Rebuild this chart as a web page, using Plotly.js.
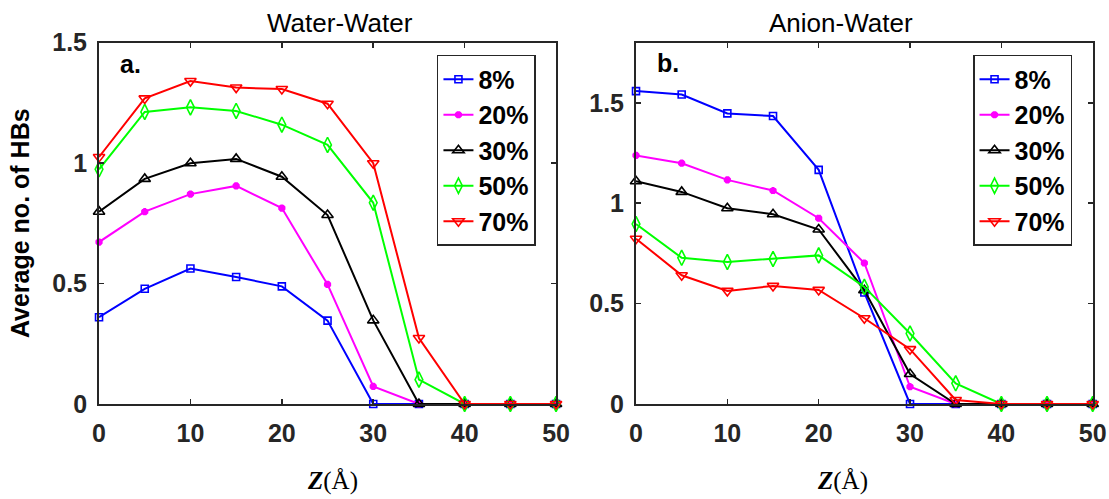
<!DOCTYPE html>
<html>
<head>
<meta charset="utf-8">
<script src="https://cdn.plot.ly/plotly-3.0.1.min.js"></script>
<style>html,body{margin:0;padding:0;background:#fff;}#chart{width:1109px;height:499px;}</style>
</head>
<body>
<div id="chart"></div>
<script>
// Z distance (Å)
const zValues = [0, 5, 10, 15, 20, 25, 30, 35, 40, 45, 50];
const seriesNames = ['8%', '20%', '30%', '50%', '70%'];

// Panel a: Water-Water
const ww8  = [0.360, 0.478, 0.562, 0.527, 0.488, 0.346, 0, 0, 0, 0, 0];
const ww20 = [0.672, 0.798, 0.871, 0.905, 0.813, 0.496, 0.073, 0, 0, 0, 0];
const ww30 = [0.798, 0.934, 0.999, 1.017, 0.943, 0.784, 0.347, 0, 0, 0, 0];
const ww50 = [0.974, 1.212, 1.231, 1.216, 1.159, 1.075, 0.835, 0.101, 0, 0, 0];
const ww70 = [1.025, 1.268, 1.340, 1.313, 1.307, 1.246, 0.999, 0.274, 0, 0, 0];

// Panel b: Anion-Water
const aw8  = [1.558, 1.541, 1.447, 1.434, 1.166, 0.555, 0, 0, 0, 0, 0];
const aw20 = [1.238, 1.199, 1.116, 1.063, 0.925, 0.702, 0.086, 0, 0, 0, 0];
const aw30 = [1.109, 1.056, 0.975, 0.945, 0.869, 0.566, 0.149, 0, 0, 0, 0];
const aw50 = [0.896, 0.728, 0.707, 0.722, 0.740, 0.583, 0.351, 0.103, 0, 0, 0];
const aw70 = [0.823, 0.641, 0.563, 0.588, 0.568, 0.427, 0.273, 0.020, 0, 0, 0];

const colors = ['#0000ff', '#ff00ff', '#000000', '#00ff00', '#ff0000'];
const symbols = ['square-open', 'asterisk-open', 'triangle-up-open', 'diamond-tall-open', 'triangle-down-open'];
const sizes = [7, 6, 10, 11, 10];

const wwData = [ww8, ww20, ww30, ww50, ww70];
const awData = [aw8, aw20, aw30, aw50, aw70];

const traces = [];
function addSet(data, xa, ya, leg) {
  data.forEach((ys, i) => {
    traces.push({
      x: zValues, y: ys, xaxis: xa, yaxis: ya, legend: leg,
      name: seriesNames[i], type: 'scatter', mode: 'lines+markers',
      cliponaxis: false,
      line: {color: colors[i], width: 2},
      marker: {symbol: symbols[i], size: sizes[i], color: colors[i],
               line: {color: colors[i], width: i === 1 ? 3 : 1.6}}
    });
  });
}
addSet(wwData, 'x', 'y', 'legend');
addSet(awData, 'x2', 'y2', 'legend2');

const axColor = '#262626';
const tickFont = {family: 'Liberation Sans, Arial, sans-serif', size: 25, color: axColor, weight: 'bold'};
function xAxis(domain, anchor) {
  return {domain: domain, anchor: anchor, range: [0, 50], tick0: 0, dtick: 10,
    ticks: 'inside', ticklen: 5, tickwidth: 1.5, tickcolor: axColor,
    showline: true, linecolor: axColor, linewidth: 2, mirror: 'ticks',
    showgrid: false, zeroline: false, tickfont: tickFont, ticklabelstandoff: 6};
}
function yAxis(domain, anchor, range) {
  return {domain: domain, anchor: anchor, range: range, tick0: 0, dtick: 0.5,
    ticks: 'inside', ticklen: 5, tickwidth: 1.5, tickcolor: axColor,
    showline: true, linecolor: axColor, linewidth: 2, mirror: 'ticks',
    showgrid: false, zeroline: false, tickfont: tickFont, ticklabelstandoff: 5};
}

const legendFont = {family: 'Liberation Sans, Arial, sans-serif', size: 25, color: '#000', weight: 'bold'};
const legendBase = {xanchor: 'left', yanchor: 'top', bgcolor: '#ffffff',
  bordercolor: axColor, borderwidth: 1.5, font: legendFont, tracegroupgap: 0, itemwidth: 30};

const layout = {
  width: 1109, height: 499,
  margin: {l: 0, r: 0, t: 0, b: 0},
  paper_bgcolor: '#ffffff', plot_bgcolor: '#ffffff',
  showlegend: true,
  xaxis: xAxis([0.0893, 0.5014], 'y'),
  yaxis: Object.assign(yAxis([0.1904, 0.9148], 'x', [0, 1.5]), {
    title: {text: 'Average no. of HBs', standoff: 16,
            font: {family: 'Liberation Sans, Arial, sans-serif', size: 25, color: '#000', weight: 'bold'}}
  }),
  xaxis2: xAxis([0.5735, 0.9853], 'y2'),
  yaxis2: yAxis([0.1904, 0.9148], 'x2', [0, 1.8]),
  legend: Object.assign({x: 0.394, y: 0.8898}, legendBase),
  legend2: Object.assign({x: 0.8774, y: 0.8898}, legendBase),
  annotations: [
    {text: 'Water-Water', xref: 'paper', yref: 'paper', x: 340/1109, y: 1 - 23/499,
     xanchor: 'center', yanchor: 'middle', showarrow: false,
     font: {family: 'Liberation Sans, Arial, sans-serif', size: 26, color: '#000'}},
    {text: 'Anion-Water', xref: 'paper', yref: 'paper', x: 841/1109, y: 1 - 23/499,
     xanchor: 'center', yanchor: 'middle', showarrow: false,
     font: {family: 'Liberation Sans, Arial, sans-serif', size: 26, color: '#000'}},
    {text: 'a.', xref: 'paper', yref: 'paper', x: 130/1109, y: 1 - 64/499,
     xanchor: 'center', yanchor: 'middle', showarrow: false,
     font: {family: 'Liberation Sans, Arial, sans-serif', size: 25, color: '#000', weight: 'bold'}},
    {text: 'b.', xref: 'paper', yref: 'paper', x: 668/1109, y: 1 - 63/499,
     xanchor: 'center', yanchor: 'middle', showarrow: false,
     font: {family: 'Liberation Sans, Arial, sans-serif', size: 25, color: '#000', weight: 'bold'}},
    {text: '<b><i>Z</i></b>(Å)', xref: 'paper', yref: 'paper', x: 332/1109, y: 2/499,
     xanchor: 'center', yanchor: 'bottom', showarrow: false,
     font: {family: 'Liberation Serif, Times New Roman, serif', size: 25, color: '#000'}},
    {text: '<b><i>Z</i></b>(Å)', xref: 'paper', yref: 'paper', x: 843/1109, y: 2/499,
     xanchor: 'center', yanchor: 'bottom', showarrow: false,
     font: {family: 'Liberation Serif, Times New Roman, serif', size: 25, color: '#000'}}
  ]
};

Plotly.newPlot('chart', traces, layout, {displayModeBar: false, staticPlot: true});
</script>
</body>
</html>
